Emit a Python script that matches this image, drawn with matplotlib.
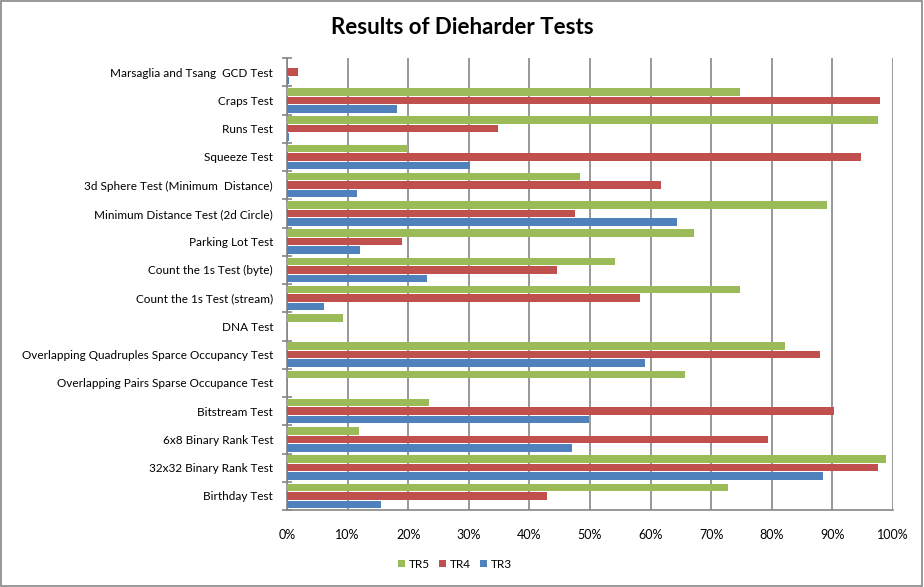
import matplotlib
matplotlib.use("Agg")
import matplotlib.pyplot as plt
import numpy as np
from matplotlib.patches import Rectangle
from matplotlib.ticker import FuncFormatter, MultipleLocator

categories = [
    "Birthday Test",
    "32x32 Binary Rank Test",
    "6x8 Binary Rank Test",
    "Bitstream Test",
    "Overlapping Pairs Sparse Occupance Test",
    "Overlapping Quadruples Sparce Occupancy Test",
    "DNA Test",
    "Count the 1s Test (stream)",
    "Count the 1s Test (byte)",
    "Parking Lot Test",
    "Minimum Distance Test (2d Circle)",
    "3d Sphere Test (Minimum  Distance)",
    "Squeeze Test",
    "Runs Test",
    "Craps Test",
    "Marsaglia and Tsang  GCD Test",
]
tr5 = [72.7, 98.8, 11.9, 23.5, 65.6, 82.1, 9.2, 74.8, 54.2, 67.1, 89.1, 48.4, 20.0, 97.6, 74.7, 0.0]
tr4 = [42.9, 97.6, 79.3, 90.2, 0.0, 87.9, 0.0, 58.2, 44.6, 19.0, 47.6, 61.7, 94.7, 34.8, 97.8, 1.75]
tr3 = [15.5, 88.5, 47.0, 49.9, 0.0, 59.0, 0.0, 6.1, 23.1, 12.1, 64.4, 11.5, 30.2, 0.4, 18.2, 0.3]
series_names = ["TR5", "TR4", "TR3"]
colors = ["#9BBB59", "#C0504D", "#4F81BD"]

plt.rcParams['font.family'] = ['Lato', 'DejaVu Sans']

fig = plt.figure(figsize=(9.24, 5.87), dpi=100)
ax = fig.add_axes([287/924, 1 - 510/587, (893-287)/924, (510-58)/587])

y = np.arange(len(categories))
pitch = 0.3
h = 0.27
for i, (vals, name, c) in enumerate(zip([tr5, tr4, tr3], series_names, colors)):
    ax.barh(y + pitch * (1 - i), vals, height=h, color=c, label=name, zorder=3)

ax.set_xlim(0, 100)
ax.set_ylim(-0.5, len(categories) - 0.5)
ax.xaxis.set_major_locator(MultipleLocator(10))
ax.xaxis.set_major_formatter(FuncFormatter(lambda v, p: f"{int(round(v))}%"))
ax.grid(axis='x', color='#868686', linewidth=1.2, zorder=0)
ax.set_yticks(y)
ax.set_yticklabels(categories)
ax.set_yticks(np.arange(-0.5, len(categories), 1), minor=True)
ax.tick_params(axis='y', which='major', length=0, pad=10, labelsize=8.5, labelcolor='black')
ax.tick_params(axis='y', which='minor', length=7, direction='inout', color='#868686', width=1.2)
ax.tick_params(axis='x', length=0, pad=14, labelsize=9)
for s in ['top', 'right']:
    ax.spines[s].set_visible(False)
for s in ['left', 'bottom']:
    ax.spines[s].set_color('#868686')
    ax.spines[s].set_linewidth(1.2)

fig.text(462/924, 1 - 27/587, "Results of Dieharder Tests", ha='center', va='center',
         fontsize=16, fontweight='bold')

handles, labels = ax.get_legend_handles_labels()
fig.legend(handles, labels, loc='center', bbox_to_anchor=(455/924, 1 - 564/587), ncol=3,
           frameon=False, fontsize=8.5, handlelength=0.6, handleheight=0.6,
           handletextpad=0.3, columnspacing=0.8)

fig.patches.append(Rectangle((0.001, 0.001), 0.997, 0.997, transform=fig.transFigure,
                             fill=False, edgecolor='#868686', linewidth=1.2))

fig.savefig("out.png", dpi=100)
